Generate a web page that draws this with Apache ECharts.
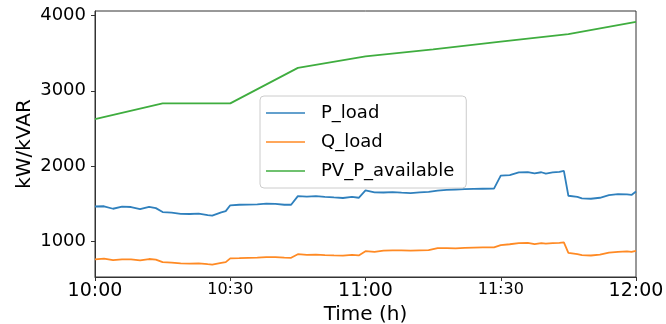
<!DOCTYPE html>
<html>
<head>
<meta charset="utf-8">
<script src="https://cdn.jsdelivr.net/npm/echarts@6/dist/echarts.min.js"></script>
<style>
  html, body { margin: 0; padding: 0; background: #fff; }
  #chart { width: 666px; height: 324px; }
</style>
</head>
<body>
<div id="chart"></div>
<script>
// minutes after 10:00
const loadTimes = [0, 2, 4, 6, 8, 10, 12, 13.5, 15, 17, 19, 21, 23, 25, 26, 28, 29,
  30, 32, 34, 36, 38, 40, 42, 43.5, 45, 47, 49, 51, 53, 55, 57, 58.5,
  60, 62, 64, 66, 68, 70, 72, 74, 76, 78, 80, 82, 84, 86, 88.5,
  90, 92, 94, 96, 97.5, 99, 100, 101.5, 103, 104, 105, 107, 108, 110, 112, 114, 116, 118, 119, 120];
const pLoad = [1462, 1465, 1432, 1460, 1455, 1428, 1458, 1440, 1388, 1380, 1365, 1362, 1366, 1348, 1340, 1385, 1400,
  1478, 1485, 1488, 1490, 1500, 1498, 1485, 1485, 1600, 1592, 1600, 1590, 1582, 1575, 1590, 1578,
  1675, 1650, 1648, 1652, 1645, 1640, 1650, 1655, 1672, 1682, 1688, 1692, 1695, 1698, 1700,
  1872, 1880, 1915, 1920, 1902, 1917, 1900, 1915, 1922, 1935, 1605, 1590, 1570, 1565, 1578, 1612, 1625, 1622, 1615, 1662];
const qLoad = [760, 768, 748, 760, 758, 745, 764, 755, 722, 715, 705, 703, 706, 695, 690, 712, 722,
  772, 775, 780, 783, 790, 790, 782, 780, 828, 820, 822, 815, 812, 810, 818, 812,
  868, 860, 875, 878, 880, 876, 880, 882, 910, 908, 905, 912, 915, 918, 920,
  948, 960, 975, 978, 962, 975, 968, 976, 978, 984, 845, 828, 815, 811, 822, 850, 860, 865, 858, 872];
const pvTimes = [0, 15, 30, 45, 60, 75, 90, 105, 120];
const pvAvailable = [2624, 2832, 2832, 3304, 3456, 3550, 3652, 3752, 3914];
const yTicks = [1000, 2000, 3000, 4000];
const xTicks = [0, 30, 60, 90, 120];
const xTickLabels = ['10:00', '10:30', '11:00', '11:30', '12:00'];

const font = '"DejaVu Sans", sans-serif';
const pair = (ts, vs) => ts.map((t, i) => [t, vs[i]]);

const chart = echarts.init(document.getElementById('chart'));
chart.setOption({
  animation: false,
  textStyle: { fontFamily: font },
  grid: {
    left: 95, right: 30, top: 11, bottom: 47,
    outerBoundsMode: 'none',
    show: true, borderColor: '#333', borderWidth: 1
  },
  legend: {
    orient: 'vertical',
    left: 260,
    top: 96,
    icon: 'path://M0,0h39v1.6h-39z',
    itemWidth: 39,
    itemHeight: 18,
    itemGap: 11,
    padding: [8, 12, 8, 6],
    backgroundColor: 'rgba(255,255,255,0.8)',
    borderColor: '#ccc',
    borderWidth: 1,
    borderRadius: 4,
    textStyle: { fontSize: 18, color: '#000', fontFamily: font, padding: [0, 0, 0, 11] },
    data: ['P_load', 'Q_load', 'PV_P_available']
  },
  xAxis: {
    type: 'value',
    min: 0,
    max: 120,
    interval: 30,
    name: 'Time (h)',
    nameLocation: 'middle',
    nameGap: 28,
    nameMoveOverlap: false,
    nameTextStyle: { fontSize: 20, color: '#000' },
    axisLine: { lineStyle: { color: '#333' } },
    axisTick: { length: 4, lineStyle: { color: '#333' } },
    splitLine: { show: false },
    axisLabel: {
      margin: 5,
      color: '#000',
      formatter: v => {
        const i = xTicks.indexOf(v);
        return (v % 60 === 0 ? '{maj|' : '{mnr|') + xTickLabels[i] + '}';
      },
      rich: {
        maj: { fontSize: 19, color: '#000', verticalAlign: 'top' },
        mnr: { fontSize: 16, color: '#000', verticalAlign: 'top' }
      }
    }
  },
  yAxis: {
    type: 'value',
    min: 525,
    max: 4060,
    name: 'kW/kVAR',
    nameLocation: 'middle',
    nameGap: 60,
    nameMoveOverlap: false,
    nameTextStyle: { fontSize: 20, color: '#000' },
    axisLine: { show: true, lineStyle: { color: '#333' } },
    axisTick: { show: true, length: 4, customValues: yTicks, lineStyle: { color: '#333' } },
    splitLine: { show: false },
    axisLabel: { fontSize: 18, color: '#000', margin: 9, customValues: yTicks, formatter: v => String(v) }
  },
  series: [
    { name: 'P_load', type: 'line', showSymbol: false, symbol: 'none', color: '#2f80bd',
      lineStyle: { width: 1.8 }, data: pair(loadTimes, pLoad), z: 2 },
    { name: 'Q_load', type: 'line', showSymbol: false, symbol: 'none', color: '#ff8a24',
      lineStyle: { width: 1.8 }, data: pair(loadTimes, qLoad), z: 2 },
    { name: 'PV_P_available', type: 'line', showSymbol: false, symbol: 'none', color: '#3fad3f',
      lineStyle: { width: 1.8 }, data: pair(pvTimes, pvAvailable), z: 2 }
  ]
});
</script>
</body>
</html>
